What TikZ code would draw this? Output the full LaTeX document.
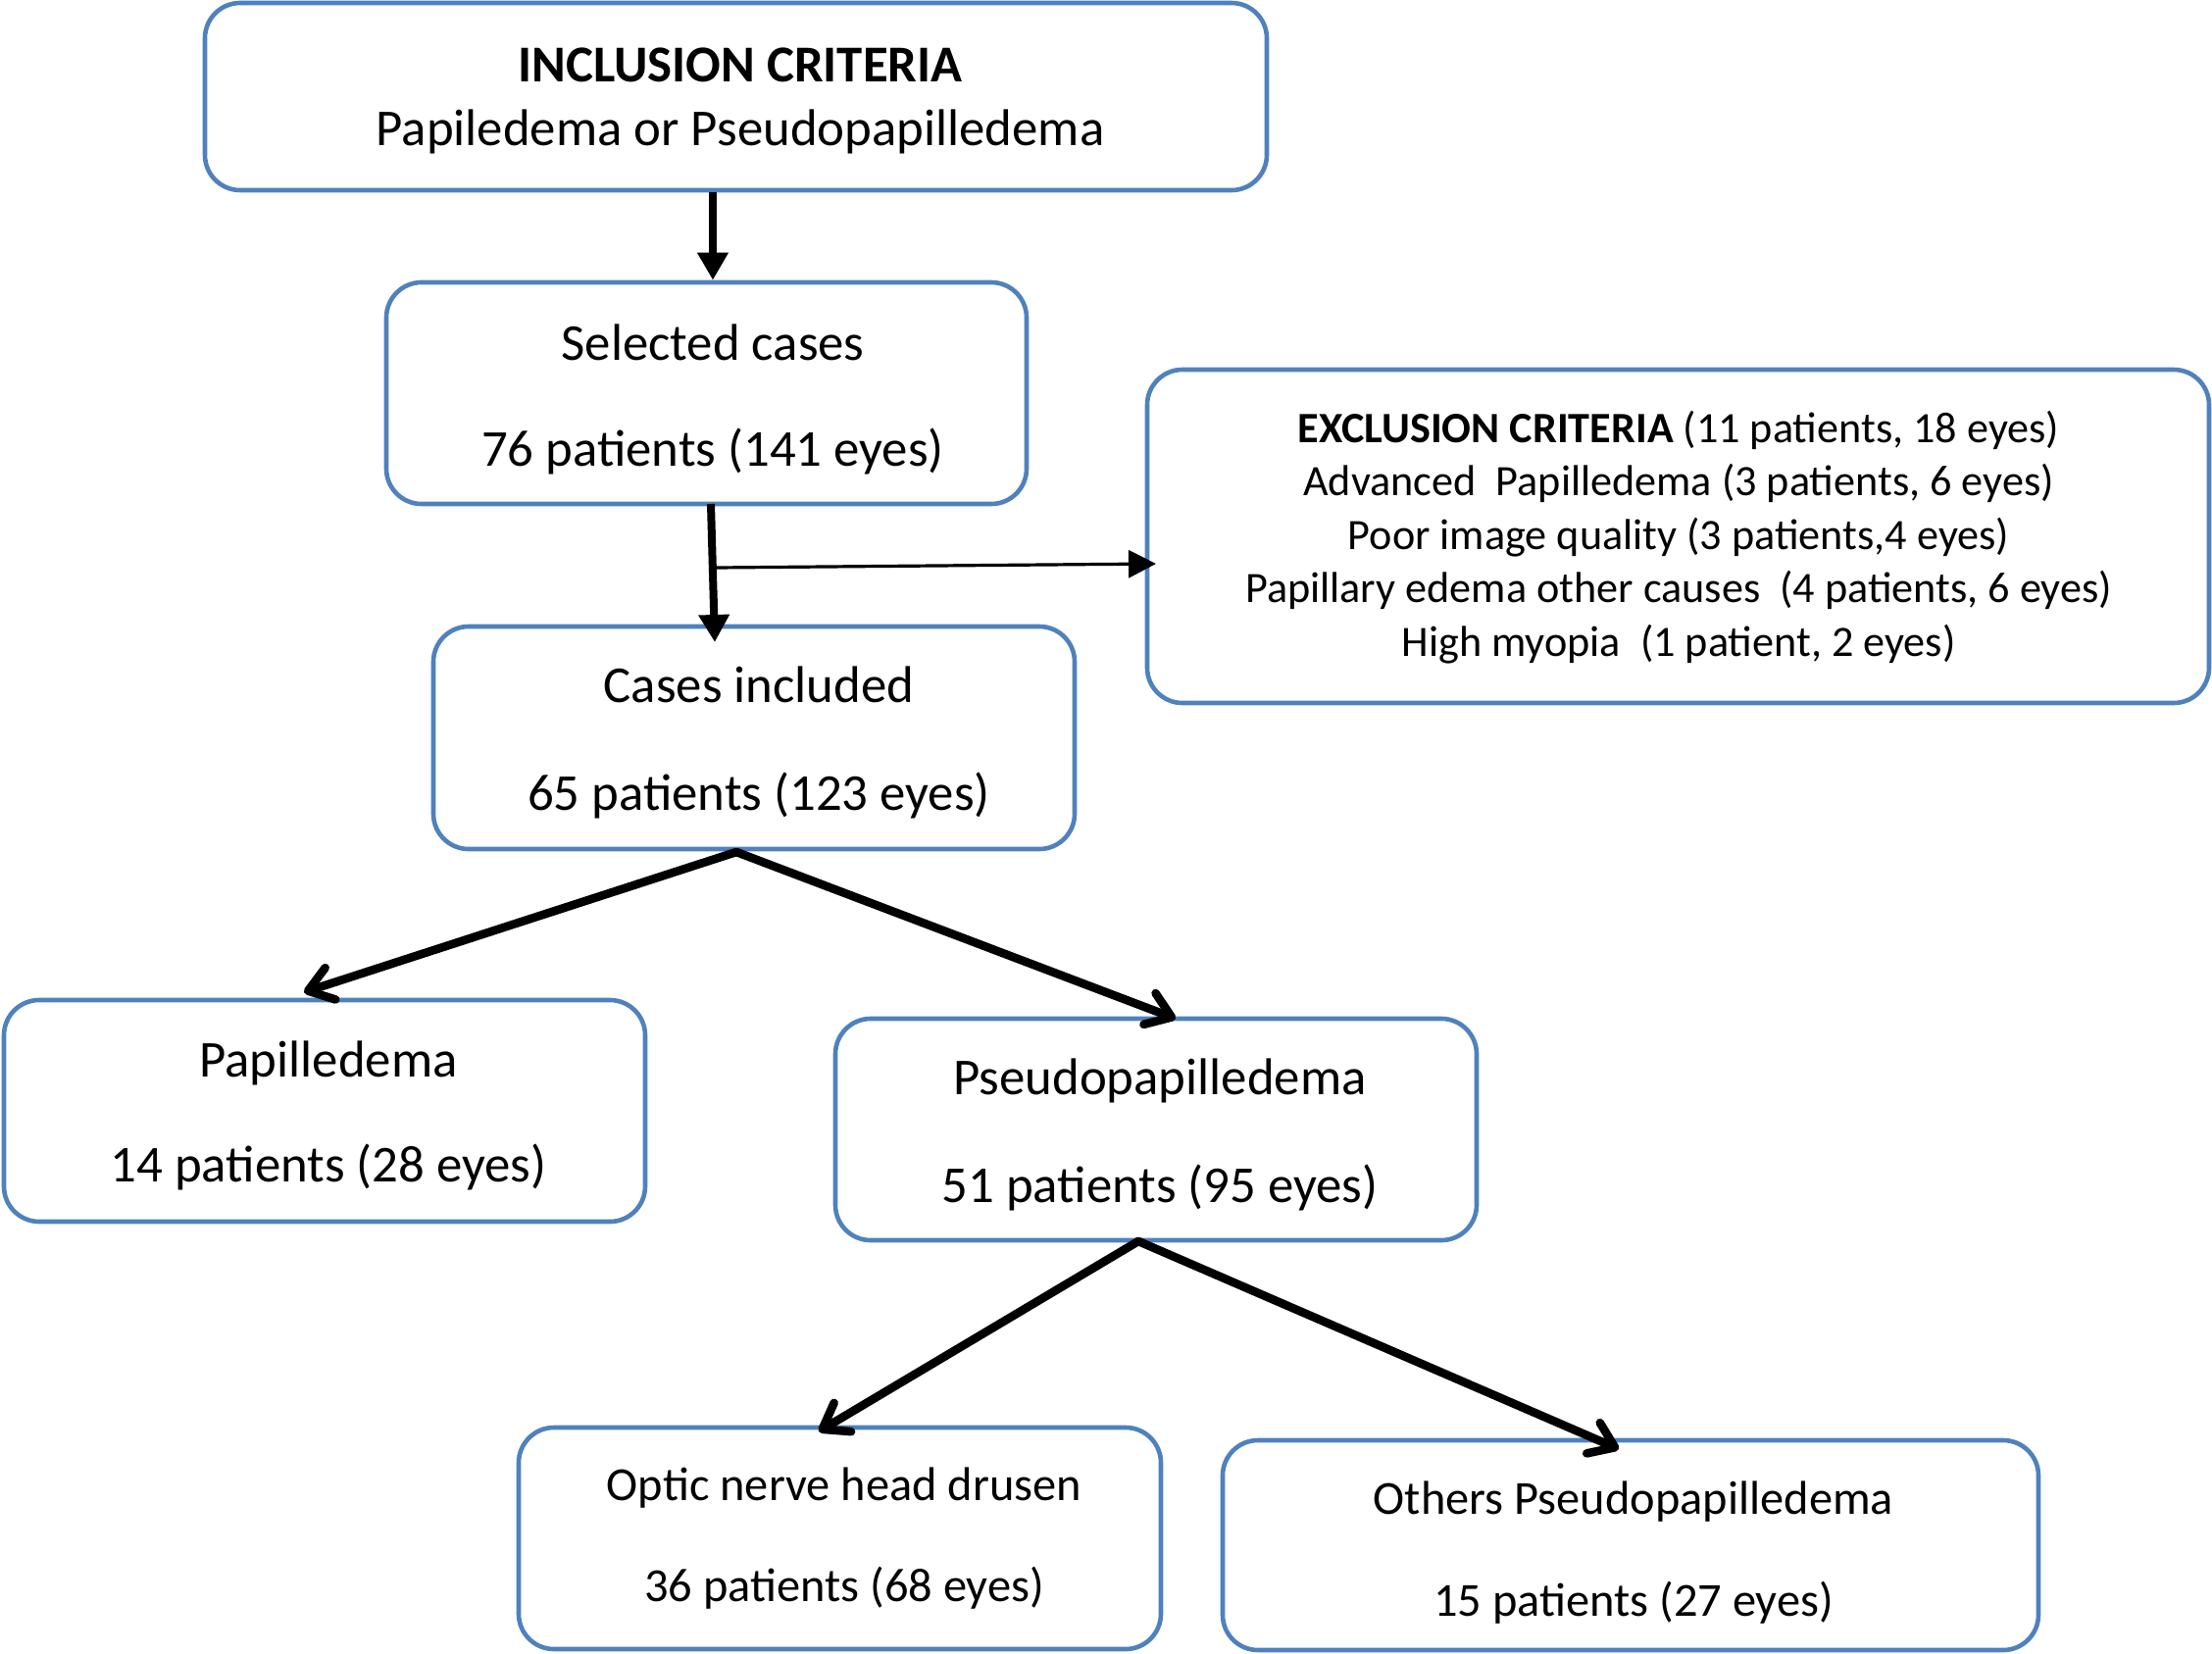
\documentclass[tikz,border=0pt]{standalone}
\usepackage{fontspec}
\setmainfont{Carlito}
\usetikzlibrary{arrows.meta,calc}
\definecolor{boxblue}{HTML}{4F81BD}
\begin{document}
\begin{tikzpicture}[x=0.5pt,y=-0.5pt,
  box/.style={draw=boxblue, line width=2.3pt, rounded corners=18pt, fill=white, inner sep=0pt},
  lbl/.style={font=\fontsize{26.4}{30}\selectfont, inner sep=0pt, text height=18pt, text depth=5pt, yshift=-2.2pt},
  slbl/.style={font=\fontsize{24.2}{28}\selectfont, inner sep=0pt, text height=16.5pt, text depth=4.6pt, yshift=-2.2pt},
  xlbl/.style={font=\fontsize{22.1}{27.2}\selectfont, inner sep=0pt, align=center, yshift=-1.5pt},
  varr/.style={line width=4pt, -{Triangle[length=14pt,width=15pt]}},
  thinarr/.style={line width=1.6pt, -{Triangle[length=14pt,width=14pt]}},
  darr/.style={line width=4.3pt, line cap=round, -{Straight Barb[length=12pt,width=17pt,round]}}
  ]
\useasboundingbox (0,0) rectangle (2256,1687);

% boxes
\node[box, minimum width=541.5pt, minimum height=95.5pt] (top) at (750.5,98.5) {};
\node[box, minimum width=326.5pt, minimum height=113pt] (sel) at (720.5,401) {};
\node[box, minimum width=541.5pt, minimum height=170pt] (excl) at (1711.5,547) {};
\node[box, minimum width=327pt, minimum height=113.5pt] (inc) at (769,752.5) {};
\node[box, minimum width=327pt, minimum height=113pt] (pap) at (331,1133) {};
\node[box, minimum width=327pt, minimum height=113pt] (pse) at (1179,1152) {};
\node[box, minimum width=327.5pt, minimum height=113pt] (onh) at (856.5,1569) {};
\node[box, minimum width=416pt, minimum height=107pt] (oth) at (1663,1576) {};

% labels
\node[lbl, font=\fontsize{26.4}{30}\selectfont\bfseries] (topa) at (755,66) {INCLUSION CRITERIA};
\node[lbl] (topb) at (755,131) {Papiledema or Pseudopapilledema};
\node[lbl] (sela) at (727,350) {Selected cases};
\node[lbl] (selb) at (727,458) {76 patients (141 eyes)};
\node[lbl] (inca) at (774,699) {Cases included};
\node[lbl] (incb) at (774,809) {65 patients (123 eyes)};
\node[lbl] (papa) at (335,1081) {Papilledema};
\node[lbl] (papb) at (335,1188) {14 patients (28 eyes)};
\node[lbl] (psea) at (1183,1099) {Pseudopapilledema};
\node[lbl] (pseb) at (1183,1209) {51 patients (95 eyes)};
\node[slbl] (onha) at (861,1514) {Optic nerve head drusen};
\node[slbl] (onhb) at (861,1617) {36 patients (68 eyes)};
\node[slbl] (otha) at (1666,1528) {Others Pseudopapilledema};
\node[slbl] (othb) at (1666,1632) {15 patients (27 eyes)};
\node[xlbl] (excltxt) at (1712,545) {\textbf{EXCLUSION CRITERIA} (11 patients, 18 eyes)\\
Advanced\ \ Papilledema (3 patients, 6 eyes)\\
Poor image quality (3 patients,4 eyes)\\
Papillary edema other causes\ \ (4 patients, 6 eyes)\\
High myopia\ \ (1 patient, 2 eyes)};

% connectors
\coordinate (v1) at (727,0);
\draw[varr] (top.south -| v1) -- (sel.north -| v1);
\coordinate (s1) at (725,514);
\coordinate (s2) at (729,655);
\draw[varr] (s1) -- (s2);
\coordinate (br) at (730,579);
\coordinate (brend) at (1179,575);
\draw[thinarr] (br) -- (brend);
\coordinate (apx1) at (751,869);
\coordinate (papt) at (310,1012);
\coordinate (pset) at (1199,1039);
\draw[darr] (apx1) -- (papt);
\draw[darr] (apx1) -- (pset);
\coordinate (apx2) at (1161,1266);
\coordinate (onht) at (835,1460);
\coordinate (otht) at (1651,1478);
\draw[darr] (apx2) -- (onht);
\draw[darr] (apx2) -- (otht);
\end{tikzpicture}
\end{document}
